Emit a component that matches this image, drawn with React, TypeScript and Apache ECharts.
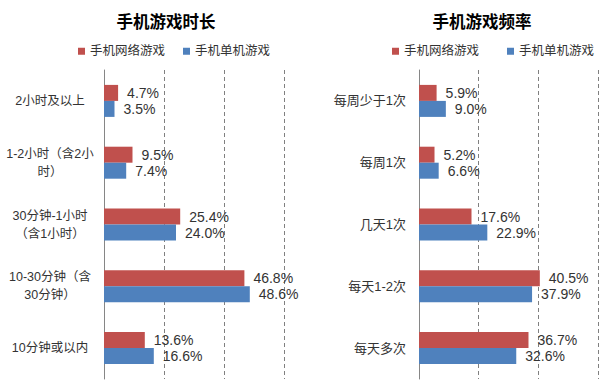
import React, { useEffect, useRef } from "react";
import * as echarts from "echarts";

const seriesNames = ["手机网络游戏", "手机单机游戏"];
const colors = ["#C0504D", "#4F81BD"];

const durationTitle = "手机游戏时长";
const durationCats = [
  "2小时及以上",
  "1-2小时（含2小\n时）",
  "30分钟-1小时\n（含1小时）",
  "10-30分钟（含\n30分钟）",
  "10分钟或以内",
];
const durationOnline = [4.7, 9.5, 25.4, 46.8, 13.6];
const durationSingle = [3.5, 7.4, 24.0, 48.6, 16.6];

const freqTitle = "手机游戏频率";
const freqCats = ["每周少于1次", "每周1次", "几天1次", "每天1-2次", "每天多次"];
const freqOnline = [5.9, 5.2, 17.6, 40.5, 36.7];
const freqSingle = [9.0, 6.6, 22.9, 37.9, 32.6];

const xTicks = [0, 20, 40, 60];

const FONT = '"Liberation Sans", "Noto Sans CJK SC", sans-serif';

export default function App() {
  const ref = useRef<HTMLDivElement>(null);
  useEffect(() => {
    if (!ref.current) return;
    const chart = echarts.init(ref.current, undefined, { renderer: "svg" });
    const xAxisBase = (gridIndex: number) => ({
      type: "value",
      gridIndex,
      min: xTicks[0],
      max: xTicks[xTicks.length - 1],
      interval: xTicks[1] - xTicks[0],
      axisLabel: { show: false },
      axisTick: { show: false },
      axisLine: { show: false },
      splitLine: { show: true, lineStyle: { type: [4, 3], color: "#808080", width: 1 } },
    });
    const yAxisBase = (gridIndex: number, data: string[], left: boolean) => ({
      type: "category",
      gridIndex,
      data,
      inverse: true,
      axisTick: { show: false },
      axisLine: { show: true, lineStyle: { color: "#868686", width: 1 } },
      axisLabel: {
        color: "#333",
        fontSize: left ? 12.5 : 13,
        fontFamily: FONT,
        lineHeight: 18,
        align: left ? "center" : "right",
        margin: left ? 54 : 13,
      },
    });
    const labelOpt = {
      show: true,
      position: "right",
      distance: 9,
      color: "#333",
      fontSize: 14,
      fontFamily: FONT,
      formatter: (p: any) => Number(p.value).toFixed(1) + "%",
    };
    const mk = (name: string, data: number[], idx: number, ci: number) => ({
      type: "bar",
      name,
      data,
      xAxisIndex: idx,
      yAxisIndex: idx,
      barWidth: 16,
      barGap: "0%",
      itemStyle: { color: colors[ci] },
      label: labelOpt,
    });
    const legendBase = (left: number, gap: number) => ({
      data: seriesNames,
      left,
      top: 45,
      width: 260,
      orient: "horizontal",
      icon: "rect",
      itemWidth: 7,
      itemHeight: 7,
      itemGap: gap,
      padding: 0,
      textStyle: { fontSize: 12.5, color: "#333", fontFamily: FONT },
      selectedMode: false,
    });
    const titleText = (text: string, x: number) => ({
      type: "text",
      x,
      y: 22,
      style: {
        text,
        fontSize: 16.5,
        fontWeight: "bold",
        fontFamily: FONT,
        fill: "#000",
        textAlign: "center",
        textVerticalAlign: "middle",
      },
    });
    chart.setOption({
      animation: false,
      backgroundColor: "#fff",
      legend: [legendBase(78, 18), legendBase(392, 28)],
      grid: [
        { left: 104, top: 70, width: 180, height: 309 },
        { left: 419, top: 70, width: 179, height: 309 },
      ],
      xAxis: [xAxisBase(0), xAxisBase(1)],
      yAxis: [yAxisBase(0, durationCats, true), yAxisBase(1, freqCats, false)],
      series: [
        mk(seriesNames[0], durationOnline, 0, 0),
        mk(seriesNames[1], durationSingle, 0, 1),
        mk(seriesNames[0], freqOnline, 1, 0),
        mk(seriesNames[1], freqSingle, 1, 1),
      ],
      graphic: [titleText(durationTitle, 166), titleText(freqTitle, 482)],
    });
    return () => chart.dispose();
  }, []);
  return (
    <div
      ref={ref}
      style={{ position: "fixed", left: 0, top: 0, width: 602, height: 386, background: "#fff" }}
    />
  );
}
